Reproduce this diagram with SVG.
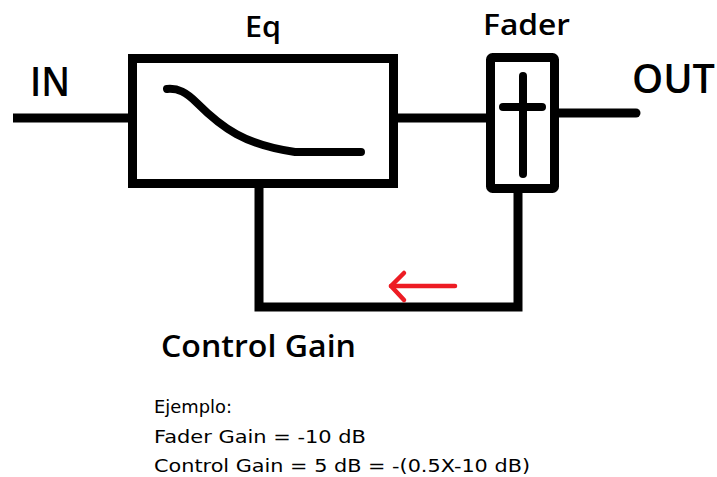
<svg xmlns="http://www.w3.org/2000/svg" width="717" height="477" viewBox="0 0 717 477">
<style>
.ln{fill:none;stroke:#000;stroke-width:9}
.big{font-family:"Open Sans","Liberation Sans",Arial,sans-serif;font-weight:600;fill:#000}
.small{font-family:"DejaVu Sans","Liberation Sans",sans-serif;font-size:18px;fill:#000}
</style>
<rect width="717" height="477" fill="#fff"/>
<g id="connectors">
<line class="ln" x1="13" y1="118" x2="128" y2="118"/>
<line class="ln" x1="398" y1="118" x2="486" y2="118"/>
<line class="ln" x1="559" y1="113" x2="636" y2="113" stroke-linecap="round"/>
<path class="ln" d="M259,188 V307 H518 V193"/>
<g id="arrow" fill="none" stroke="#ed1c24" stroke-width="4.5" stroke-linecap="round" stroke-linejoin="round">
<line x1="391" y1="286" x2="455" y2="286"/>
<polyline points="404,273 391,286 404,300"/>
</g>
</g>
<g id="eq">
<rect class="ln" x="132.5" y="58.5" width="261" height="125"/>
<path d="M167,89 C178,88 186,92 197,103 C222,128 245,145 295,152 L361,152" fill="none" stroke="#000" stroke-width="8" stroke-linecap="round"/>
<text class="big" x="245" y="37" font-size="28" textLength="36" lengthAdjust="spacingAndGlyphs">Eq</text>
</g>
<g id="fader">
<rect class="ln" x="490.5" y="57.5" width="64" height="131" rx="2"/>
<line x1="523" y1="76" x2="523" y2="174" stroke="#000" stroke-width="8" stroke-linecap="round"/>
<line x1="503" y1="107" x2="542" y2="107" stroke="#000" stroke-width="8" stroke-linecap="round"/>
<text class="big" x="483" y="35" font-size="28" textLength="87" lengthAdjust="spacingAndGlyphs">Fader</text>
</g>
<g id="in">
<text class="big" x="30" y="96" font-size="40" textLength="40" lengthAdjust="spacingAndGlyphs">IN</text>
</g>
<g id="out">
<text class="big" x="632" y="93" font-size="39" textLength="83" lengthAdjust="spacingAndGlyphs">OUT</text>
</g>
<g id="control-gain">
<text class="big" x="161" y="357" font-size="31" textLength="195" lengthAdjust="spacingAndGlyphs">Control Gain</text>
</g>
<g id="example">
<text class="small" x="154" y="413" textLength="78" lengthAdjust="spacingAndGlyphs">Ejemplo:</text>
<text class="small" x="154" y="443" textLength="212" lengthAdjust="spacingAndGlyphs">Fader Gain = -10 dB</text>
<text class="small" x="154" y="472" textLength="376" lengthAdjust="spacingAndGlyphs">Control Gain = 5 dB = -(0.5X-10 dB)</text>
</g>
</svg>
